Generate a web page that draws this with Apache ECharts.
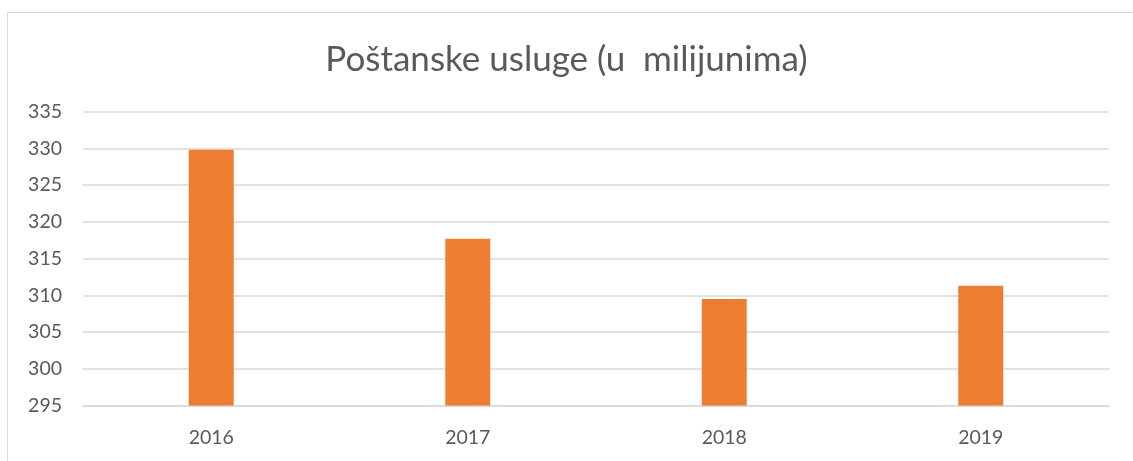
<!DOCTYPE html>
<html><head><meta charset="utf-8">
<script src="https://cdn.jsdelivr.net/npm/echarts@6/dist/echarts.min.js"></script>
<style>html,body{margin:0;padding:0;background:#fff;}#c{width:1133px;height:461px;}</style>
</head><body><div id="c"></div>
<script>
const titleText = 'Poštanske usluge (u  milijunima)';
const categories = ['2016', '2017', '2018', '2019'];
const values = [329.8, 317.7, 309.5, 311.3];
const yMin = 295, yMax = 335, yStep = 5;

const chart = echarts.init(document.getElementById('c'));
chart.setOption({
  animation: false,
  backgroundColor: '#fff',
  graphic: [{type: 'rect', shape: {x: 7.5, y: 12.5, width: 1300, height: 600}, style: {fill: 'none', stroke: '#d9d9d9', lineWidth: 1}, z: -1}],
  title: {text: titleText, left: 'center', top: 37, textStyle: {fontFamily: 'Lato, "Open Sans", sans-serif', fontWeight: 'normal', fontSize: 35, color: '#595959'}},
  grid: {left: 83, right: 24, top: 111.5, bottom: 55.5},
  xAxis: {type: 'category', data: categories, axisLine: {lineStyle: {color: '#d9d9d9', width: 1.5}}, axisTick: {show: false},
    axisLabel: {color: '#595959', fontSize: 19.5, fontFamily: 'Lato, sans-serif', margin: 22}},
  yAxis: {type: 'value', min: yMin, max: yMax, interval: yStep, axisLine: {show: false}, axisTick: {show: false},
    splitLine: {lineStyle: {color: '#d9d9d9', width: 1.5}},
    axisLabel: {color: '#595959', fontSize: 19.5, fontFamily: 'Lato, sans-serif', margin: 21}},
  series: [{type: 'bar', data: values, barWidth: 45, itemStyle: {color: '#ED7D31'}}]
});
</script></body></html>
